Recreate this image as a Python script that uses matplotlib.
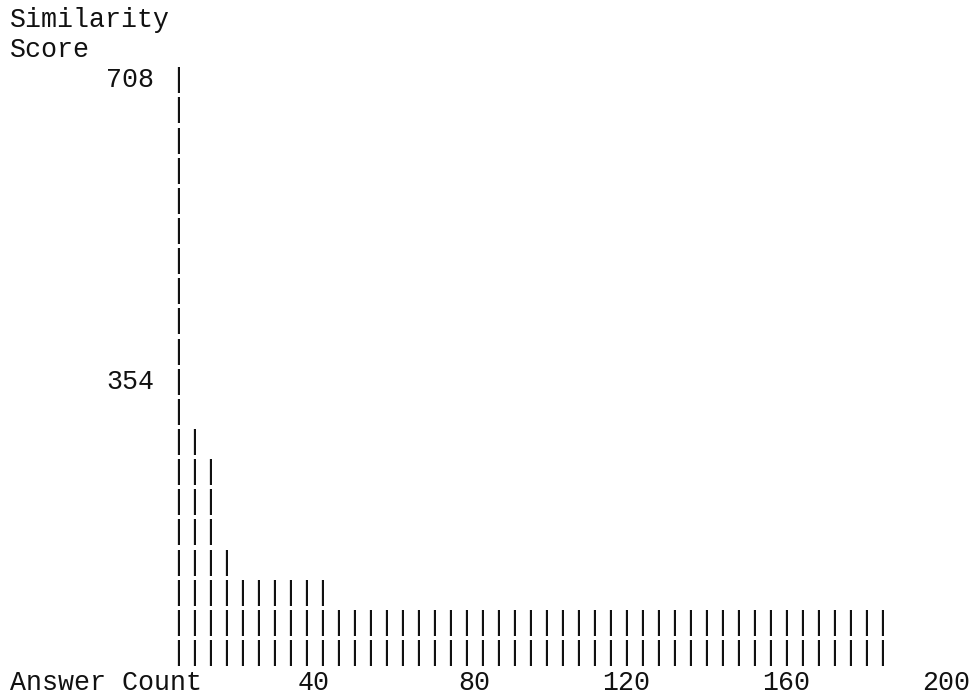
import numpy as np
import matplotlib.pyplot as plt

# ascii style chart: bars drawn as stacked "|" glyphs
y_max = 708
n_rows = 20                      # levels between 0 and y_max
y_ticks = [708, 354]
x_ticks = [40, 80, 120, 160, 200]
x_title = "Answer Count"
y_title = ["Similarity", "Score"]

# one bar every 4 answers (6, 10, ..., 178)
bar_x = np.arange(6, 179, 4)
bar_y = [283, 248, 142] + [106] * 6 + [71] * 35
axis_x = 2

step = y_max / n_rows

fig = plt.figure(figsize=(9.71, 6.95), dpi=100)
ax = fig.add_axes([0, 0, 1, 1])
ax.set_xlim(-42.5, 200.25)
ax.set_ylim(-14.0, 802.3)
ax.axis("off")

font = dict(family="Liberation Mono", fontsize=19.2, color="#111111")

# y axis line
for lev in range(1, n_rows + 1):
    ax.text(axis_x, lev * step, "|", ha="center", va="center", **font)

# bars
for x, v in zip(bar_x, bar_y):
    h = int(round(v / step))
    for lev in range(1, h + 1):
        ax.text(x, lev * step, "|", ha="center", va="center", **font)

# tick labels
for t in y_ticks:
    ax.text(-4, t, str(t), ha="right", va="center", **font)
for t in x_ticks:
    ax.text(t, 0, str(t), ha="right", va="center", **font)

ax.text(-40, 0, x_title, ha="left", va="center", **font)
ax.text(-40, 22 * step, y_title[0], ha="left", va="center", **font)
ax.text(-40, 21 * step, y_title[1], ha="left", va="center", **font)

fig.savefig("out.png", dpi=100)
